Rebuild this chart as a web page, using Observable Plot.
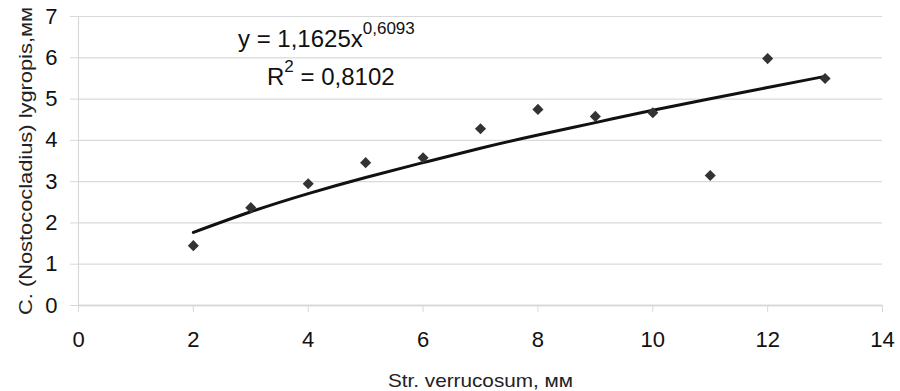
<!DOCTYPE html>
<html><head><meta charset="utf-8">
<script src="https://cdn.jsdelivr.net/npm/d3@7"></script>
<script src="https://cdn.jsdelivr.net/npm/@observablehq/plot@0.6"></script>
<style>
body{margin:0;background:#fff;font-family:Arial,"Liberation Sans",sans-serif;}
</style></head>
<body><div id="wrap"></div>
<script>
const strVerrucosum = [2, 3, 4, 5, 6, 7, 8, 9, 10, 11, 12, 13];
const lygropis = [1.45, 2.37, 2.95, 3.46, 3.58, 4.28, 4.75, 4.58, 4.67, 3.15, 5.98, 5.50];
const trendX = [2, 3, 4, 5, 6, 7, 8, 9, 10, 11, 12, 13];
const trendY = [1.77, 2.27, 2.71, 3.10, 3.46, 3.81, 4.13, 4.43, 4.73, 5.01, 5.28, 5.55];
const xTicks = [0, 2, 4, 6, 8, 10, 12, 14];
const yTicks = [0, 1, 2, 3, 4, 5, 6, 7];
const xLabel = "Str. verrucosum, мм";
const yLabel = "C. (Nostococladius) lygropis,мм";
const eqLine1 = "y = 1,1625x";
const eqExp = "0,6093";
const eqR = "R";
const eqRExp = "2";
const eqR2 = " = 0,8102";

const points = strVerrucosum.map((x, i) => ({x, y: lygropis[i]}));
const trend = trendX.map((x, i) => ({x, y: trendY[i]}));
const grey = "#d9d9d9";
const font = "Arial, 'Liberation Sans', sans-serif";

const chart = Plot.plot({
  width: 900, height: 391,
  marginLeft: 78, marginRight: 18, marginTop: 16, marginBottom: 86,
  style: {fontFamily: font, background: "#fff"},
  x: {domain: [0, 14]},
  y: {domain: [0, 7]},
  marks: [
    Plot.gridY(yTicks.filter(d => d > 0), {stroke: grey, strokeOpacity: 1, strokeWidth: 1.2}),
    Plot.ruleX([0], {stroke: grey, strokeWidth: 1.2}),
    Plot.ruleY([0], {stroke: grey, strokeWidth: 2}),
    Plot.axisX({ticks: xTicks, tickFormat: d3.format("d"), tickSize: 7, tickPadding: 19, fontSize: 22, fill: "#111", stroke: grey, strokeOpacity: 1,
      label: xLabel, labelAnchor: "center", labelArrow: "none", labelOffset: 81}),
    Plot.axisY({ticks: yTicks, tickFormat: d3.format("d"), tickSize: 8, tickPadding: 13, fontSize: 22, fill: "#111", stroke: grey, strokeOpacity: 1,
      label: yLabel, labelAnchor: "center", labelArrow: "none", labelOffset: 60}),
    Plot.line(trend, {x: "x", y: "y", stroke: "#111", strokeWidth: 3, curve: "natural"}),
    Plot.dot(points, {x: "x", y: "y", symbol: "diamond2", r: 5, fill: "#333", stroke: "none"})
  ]
});
const svg = d3.select(chart);
svg.selectAll("[aria-label='x-axis label'] text")
  .attr("font-size", 19).attr("fill", "#222").attr("textLength", 185).attr("lengthAdjust", "spacingAndGlyphs");
svg.selectAll("[aria-label='y-axis label'] text")
  .attr("font-size", 19).attr("fill", "#222").attr("textLength", 308).attr("lengthAdjust", "spacingAndGlyphs");

const ann = svg.append("g").attr("font-family", font).attr("fill", "#111").attr("text-anchor", "start");
const t1 = ann.append("text").attr("x", 238).attr("y", 47).attr("font-size", 24);
t1.append("tspan").text(eqLine1);
t1.append("tspan").attr("font-size", 17).attr("dy", -13).text(eqExp);
const t2 = ann.append("text").attr("x", 267).attr("y", 85).attr("font-size", 24);
t2.append("tspan").text(eqR);
t2.append("tspan").attr("font-size", 17).attr("dy", -13).text(eqRExp);
t2.append("tspan").attr("dy", 13).text(eqR2);

document.getElementById("wrap").appendChild(chart);
</script></body></html>
